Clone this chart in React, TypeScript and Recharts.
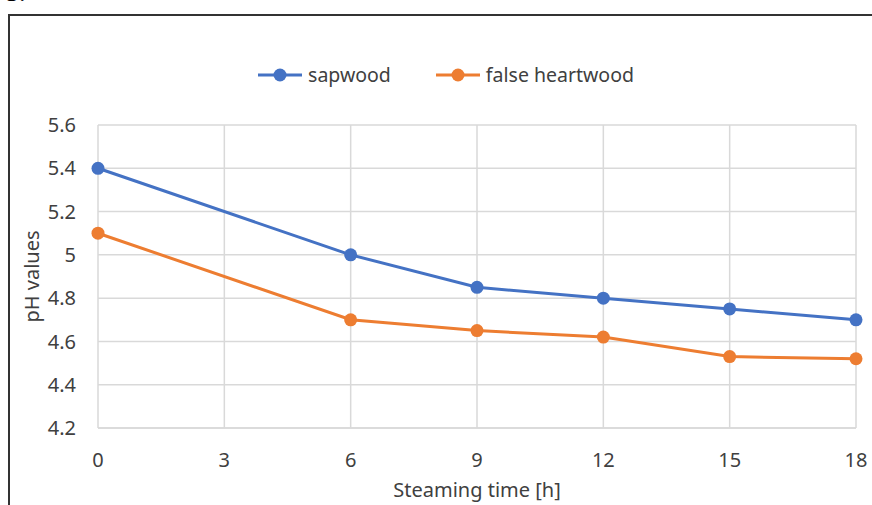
import { LineChart, Line, XAxis, YAxis, CartesianGrid } from 'recharts';

const steamingHours = [0, 6, 9, 12, 15, 18];
const sapwood = [5.4, 5.0, 4.85, 4.8, 4.75, 4.7];
const falseHeartwood = [5.1, 4.7, 4.65, 4.62, 4.53, 4.52];

const xTicks = [0, 3, 6, 9, 12, 15, 18];
const yTicks = [4.2, 4.4, 4.6, 4.8, 5.0, 5.2, 5.4, 5.6];

const seriesNames = ['sapwood', 'false heartwood'];

const FONT = '"Noto Sans", "Open Sans", sans-serif';
const BLUE = '#4472C4';
const ORANGE = '#ED7D31';
const seriesColors = [BLUE, ORANGE];

const data = steamingHours.map((h, i) => ({
    h,
    sapwood: sapwood[i],
    falseHeartwood: falseHeartwood[i],
}));

function ChartLegend() {
    return (
        <div
            style={{
                position: 'absolute',
                left: 0,
                top: 61,
                width: 892,
                display: 'flex',
                justifyContent: 'center',
                fontFamily: FONT,
                fontSize: 19.5,
                color: '#404040',
            }}
        >
            {seriesNames.map((name, i) => (
                <div key={name} style={{ display: 'flex', alignItems: 'center', marginRight: i === 0 ? 45 : 0 }}>
                    <svg width={44} height={14} style={{ marginRight: 6 }}>
                        <line x1={0} y1={7} x2={44} y2={7} stroke={seriesColors[i]} strokeWidth={3} />
                        <circle cx={22} cy={7} r={6.5} fill={seriesColors[i]} />
                    </svg>
                    <span>{name}</span>
                </div>
            ))}
        </div>
    );
}

export default function App() {
    return (
        <div style={{ position: 'fixed', left: 0, top: 0, width: 872, height: 505, background: '#fff', overflow: 'hidden' }}>
            <div style={{ position: 'absolute', left: 6, top: -22, fontFamily: 'serif', fontSize: 26, color: '#000' }}>5.</div>
            <div style={{ position: 'absolute', left: 8, top: 14, width: 900, height: 520, borderLeft: '2px solid #333', borderTop: '2px solid #333' }} />
            <ChartLegend />
            <div style={{ position: 'absolute', left: 0, top: 0 }}>
                <LineChart width={872} height={505} data={data} margin={{ top: 125, right: 16, left: 0, bottom: 0 }}>
                    <CartesianGrid stroke="#d9d9d9" strokeWidth={1.5} />
                    <XAxis
                        dataKey="h"
                        type="number"
                        domain={[0, 18]}
                        ticks={xTicks}
                        interval={0}
                        height={77}
                        stroke="#d9d9d9"
                        strokeWidth={1.5}
                        tickLine={false}
                        tickMargin={19}
                        tick={{ fill: '#404040', fontSize: 20, fontFamily: FONT }}
                        label={{
                            content: (p: any) => (
                                <text
                                    x={p.viewBox.x + p.viewBox.width / 2}
                                    y={p.viewBox.y + 69}
                                    textAnchor="middle"
                                    fill="#404040"
                                    fontSize={20}
                                    fontFamily={FONT}
                                >
                                    Steaming time [h]
                                </text>
                            ),
                        }}
                    />
                    <YAxis
                        type="number"
                        domain={[4.2, 5.6]}
                        ticks={yTicks}
                        interval={0}
                        width={98}
                        axisLine={false}
                        tickLine={false}
                        tickMargin={16}
                        tickFormatter={(v: number) => String(Number(v.toFixed(1)))}
                        tick={{ fill: '#404040', fontSize: 20, fontFamily: FONT }}
                        label={{
                            content: (p: any) => {
                                const cx = 31;
                                const cy = p.viewBox.y + p.viewBox.height / 2;
                                return (
                                    <text
                                        x={cx}
                                        y={cy}
                                        transform={`rotate(-90, ${cx}, ${cy})`}
                                        textAnchor="middle"
                                        dominantBaseline="central"
                                        fill="#404040"
                                        fontSize={20}
                                        fontFamily={FONT}
                                    >
                                        pH values
                                    </text>
                                );
                            },
                        }}
                    />
                    <Line
                        name={seriesNames[0]}
                        dataKey="sapwood"
                        stroke={BLUE}
                        strokeWidth={3}
                        dot={{ r: 6.5, fill: BLUE, stroke: BLUE, strokeWidth: 0 }}
                        isAnimationActive={false}
                    />
                    <Line
                        name={seriesNames[1]}
                        dataKey="falseHeartwood"
                        stroke={ORANGE}
                        strokeWidth={3}
                        dot={{ r: 6.5, fill: ORANGE, stroke: ORANGE, strokeWidth: 0 }}
                        isAnimationActive={false}
                    />
                </LineChart>
            </div>
        </div>
    );
}
